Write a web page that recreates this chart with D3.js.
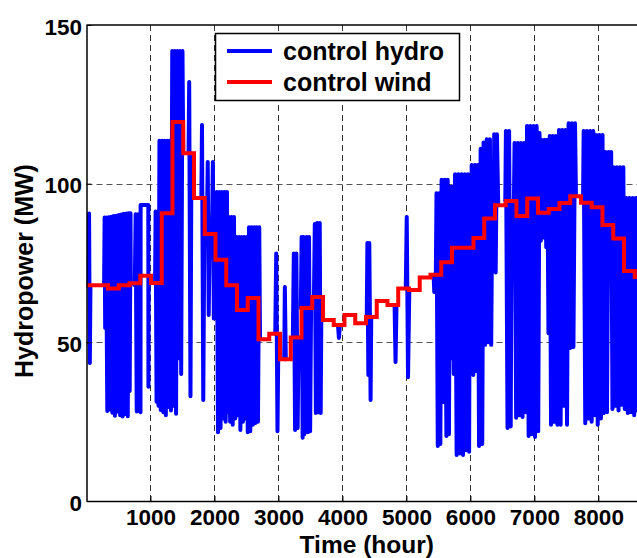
<!DOCTYPE html>
<html><head><meta charset="utf-8">
<script src="https://cdn.jsdelivr.net/npm/d3@7"></script>
<style>
body{margin:0;background:#fff}
svg{display:block}
text{font-family:"Liberation Sans",Arial,Helvetica,sans-serif;font-weight:bold;fill:#000}
</style>
</head><body>
<svg id="chart" width="637" height="558"></svg>
<script>
// ---- data ----
const xTicks = [1000,2000,3000,4000,5000,6000,7000,8000];
const yTicks = [0,50,100,150];
const seriesNames = ["control hydro","control wind"];
const seriesColors = ["#0000ff","#ff0000"];
const hoursInYear = 8760;
const hoursPerWeek = 168;

// weekly (step) values of the wind-controlled series, MW
const windWeekly = [68,68,67,68,68.6,71,68.7,90.7,119.4,109.6,95.5,84.1,76,68,60.2,64,51,52.7,44.7,51.5,
  60.8,64.3,57,55.5,58.6,56,58,63,61.8,67,66.5,70.4,71.3,75.2,79.8,79.8,82.9,89,93.2,94.5,
  89.8,95.3,90.8,92,93.9,96,94,92.6,87,82.7,72.5,70.6];

// hourly hydro series read as [hour, MW] turning points (null = hidden under the wind line)
const hydroQ1 = [[1,68],[30,68],[40,90.6],[52,43.5],[62,68],[63,null],
 [275,68],[283,89.3],[292,54.5],[305,89.3],[325,28.4],[345,89.4],[365,28.8],[385,89.6],[405,27.8],[425,89.8],[445,26.9],[465,89.9],[485,28.2],[505,90.1],[525,27.0],[545,90.3],[565,26.6],[585,90.5],[605,27.4],[625,90.6],[645,26.7],[660,90.7],[675,34.7],[688,90.7],[692,68],[693,null],
 [755,68],[768,90.4],[785,28.2],[805,90.4],[822,28.5],[844,28],[846,93.3],[966,93.3],[968,36],[972,68],[973,null],
 [1072,68.7],[1080,91.2],[1095,31.3],[1110,91],[1125,30],[1140,113.5],[1160,28.7],[1180,113.5],[1200,28],[1220,113.5],[1240,27],[1260,113.5],[1280,29.6],[1300,113.5],[1320,28.5],[1340,141.8],[1360,30],[1380,141.8],[1400,27.5],[1420,141.8],[1440,45],[1460,141.8],[1480,40],[1500,141.8],[1512,109.6],[1513,null],
 [1595,109.6],[1605,132],[1625,33],[1640,109.6],[1641,null],
 [1795,95.5],[1805,118.5],[1825,31.8],[1845,95.5],[1846,null],
 [1880,84.1],[1895,106.8],[1910,58.6],[1925,84.1],[1926,null],
 [1960,84.1],[1975,106.8],[1990,57.5],[2005,84.1],[2006,null],
 [2025,76],[2035,97.4],[2055,21.7],[2075,97.4],[2095,23],[2115,97.4],[2135,26],[2155,97.4],[2175,25],[2195,97.4]];
const hydroQ2 = [[2210,28],[2225,89.5],[2245,25],[2265,89.5],[2285,24],[2305,89.5],[2325,26],[2345,83.2],[2365,27],[2385,83.2],[2405,22.4],[2425,83.2],[2445,25],[2465,83.2],[2485,26],[2505,83.2],[2520,21.7],[2540,86.3],[2560,22],[2580,86.3],[2600,24],[2620,86.3],[2640,24.6],[2660,86.3],[2680,25],[2700,86.3],[2712,51],[2713,null],
 [2950,52.7],[2965,78],[2985,22],[3000,52.7],[3001,null],
 [3090,44.7],[3100,67.4],[3115,44.7],[3116,null],
 [3225,51.5],[3240,78],[3260,22.4],[3280,78],[3300,23],[3315,51.5],[3316,null],
 [3350,60.8],[3362,83.2],[3378,19.9],[3392,83.2],[3405,21],[3415,60.8],[3416,null],
 [3430,60.8],[3442,83.2],[3460,21.7],[3478,83.2],[3495,22],[3510,60.8],[3511,null],
 [3555,64.3],[3568,87.3],[3585,27.7],[3605,87.6],[3625,28],[3645,87.6],[3660,27.7],[3672,64.3],[3673,null],
 [3930,55.5],[3945,51.4],[3960,55.5],[3961,null]];
const hydroQ3 = [[4380,58],[4390,81.3],[4405,39.7],[4420,81.3],[4440,31.8],[4450,58],[4451,null],
 [4815,61.8],[4830,43.8],[4845,61.8],[4846,null],
 [4990,67],[5005,89.5],[5025,39],[5045,66.5],[5046,null],
 [5425,71.3],[5435,65.9],[5445,71.3],[5460,71.3],
 [5470,97],[5490,17.3],[5510,97],[5530,18],[5550,101.2],[5575,31.2],[5600,101.2],[5625,20.5],[5645,101.2],[5665,21],[5680,99],[5700,45],[5720,99],[5740,40],
 [5760,103],[5785,14.5],[5810,103],[5835,15],[5860,103],[5885,14.5],[5910,103],[5935,16],[5960,103],[5980,15.5],[5990,79.8],[6010,79.8],
 [6020,105.9],[6045,39.7],[6070,105.9],[6095,41],[6115,105.9],
 [6135,17.3],[6160,111],[6185,18],[6205,113],
 [6230,49.2],[6255,114],[6280,50],[6305,114],[6325,49.2],[6340,89],[6365,89],
 [6372,115.6],[6395,72],[6415,115.6],[6435,93.2],[6436,null],
 [6545,94.5],[6555,116.6],[6580,23]];
const hydroQ4 = [[6605,116.6],[6630,23.5],[6645,94.5],[6680,94.5],
 [6690,112.8],[6715,26.2],[6740,112.8],[6765,27],[6790,112.8],[6815,26.5],[6840,112.8],[6865,28],
 [6885,118.2],[6910,20.5],[6935,118.2],[6960,21],[6985,118.2],[7010,20.2],[7035,118.2],[7060,22],[7080,116],
 [7100,82],[7120,113.8],[7145,83],[7165,113.8],[7185,80],
 [7200,113.8],[7220,52.9],[7240,115],
 [7260,24],[7285,115],[7310,25],[7335,115],[7360,24],[7385,116.9],
 [7410,24],[7435,116.9],[7460,30],[7485,116.9],[7510,24],[7535,119],
 [7560,48.2],[7585,119],[7610,48.5],[7635,119],[7650,96],[7651,null],
 [7760,94],[7770,116.6],[7795,24.5],[7820,116.6],[7845,26],[7870,116.6],[7895,25],[7920,116.6],[7945,27],
 [7965,115.3],[7990,24],[8015,115.3],[8040,26],[8065,115.3],
 [8085,27.7],[8110,110],[8135,28],[8160,110],[8180,78],[8200,110],[8220,29],
 [8240,105.2],[8265,30],[8290,105.2],[8315,28.5],[8340,105.2],[8365,30.3],[8390,105.2],[8412,29],
 [8435,95.5],[8460,27.7],[8485,95.5],[8510,28],[8535,95.5],[8560,27],[8585,95.5],[8610,28.5],[8635,95.5],[8660,28],[8685,95.5],[8710,28],[8735,95.5],[8760,70]];

// ---- layout ----
const svg = d3.select("#chart");
const m = {left:86.5, top:25, bottom:501, right:647};
const x = d3.scaleLinear().domain([0,hoursInYear]).range([m.left,m.right]);
const y = d3.scaleLinear().domain([0,150]).range([m.bottom,m.top]);

svg.append("defs").append("clipPath").attr("id","plotclip")
  .append("rect").attr("x",m.left).attr("y",m.top-3).attr("width",m.right-m.left).attr("height",m.bottom-m.top+3);

// grid
const grid = svg.append("g").attr("stroke","#333").attr("stroke-width",1).attr("stroke-dasharray","6,4");
grid.selectAll("line.vx").data(xTicks).join("line").attr("class","vx")
  .attr("x1",d=>Math.round(x(d))+0.5).attr("x2",d=>Math.round(x(d))+0.5).attr("y1",m.top).attr("y2",m.bottom);
grid.selectAll("line.hy").data(yTicks.filter(d=>d>0&&d<150)).join("line").attr("class","hy")
  .attr("stroke","#555")
  .attr("y1",d=>Math.round(y(d))+0.5).attr("y2",d=>Math.round(y(d))+0.5).attr("x1",m.left).attr("x2",m.right);

// series
const plot = svg.append("g").attr("clip-path","url(#plotclip)");
const hydro = hydroQ1.concat(hydroQ2, hydroQ3, hydroQ4);
const hydroLine = d3.line().defined(d=>d[1]!==null).x(d=>x(d[0])).y(d=>y(d[1]));
plot.append("path").datum(hydro).attr("d",hydroLine)
  .attr("fill","none").attr("stroke",seriesColors[0]).attr("stroke-width",4)
  .attr("stroke-linejoin","round").attr("stroke-linecap","round");

const windPts = windWeekly.map((v,i)=>[i*hoursPerWeek, v]);
windPts.push([hoursInYear, windWeekly[windWeekly.length-1]]);
const windLine = d3.line().curve(d3.curveStepAfter).x(d=>x(d[0])).y(d=>y(d[1]));
plot.append("path").datum(windPts).attr("d",windLine)
  .attr("fill","none").attr("stroke",seriesColors[1]).attr("stroke-width",4)
  .attr("stroke-linejoin","miter");

// axes
const xAxis = d3.axisBottom(x).tickValues(xTicks).tickSizeInner(-5).tickSizeOuter(0).tickPadding(8).tickFormat(d3.format("d"));
const gx = svg.append("g").attr("transform",`translate(0,${m.bottom})`).call(xAxis);
gx.selectAll("text").style("font-size","22.5px");
const yAxis = d3.axisLeft(y).tickValues(yTicks).tickSizeInner(-5).tickSizeOuter(0).tickPadding(4.5).tickFormat(d3.format("d"));
const gy = svg.append("g").attr("transform",`translate(${m.left},0)`).call(yAxis);
gy.selectAll("text").style("font-size","22.5px").attr("dy","0.4em");
[gx,gy].forEach(g=>{g.select(".domain").attr("stroke","#000").attr("stroke-width",1.5);
  g.selectAll(".tick line").attr("stroke","#000").attr("stroke-width",1);});
// top border
svg.append("line").attr("x1",m.left).attr("x2",m.right).attr("y1",m.top).attr("y2",m.top)
  .attr("stroke","#000").attr("stroke-width",1.5);

// axis labels
svg.append("text").attr("x",(m.left+m.right)/2).attr("y",552.5).attr("text-anchor","middle")
  .style("font-size","24.5px").text("Time (hour)");
svg.append("text").attr("transform",`translate(33,${(m.top+m.bottom)/2+8}) rotate(-90)`).attr("text-anchor","middle")
  .style("font-size","25px").text("Hydropower (MW)");

// legend
const lg = svg.append("g");
lg.append("rect").attr("x",215.5).attr("y",33.5).attr("width",244).attr("height",67)
  .attr("fill","#fff").attr("stroke","#000").attr("stroke-width",1.5);
seriesNames.forEach((n,i)=>{
  const yy = 51 + i*31;
  lg.append("line").attr("x1",227).attr("x2",272).attr("y1",yy).attr("y2",yy)
    .attr("stroke",seriesColors[i]).attr("stroke-width",4);
  lg.append("text").attr("x",283).attr("y",yy+9).style("font-size","25px").text(n);
});
</script>
</body></html>
